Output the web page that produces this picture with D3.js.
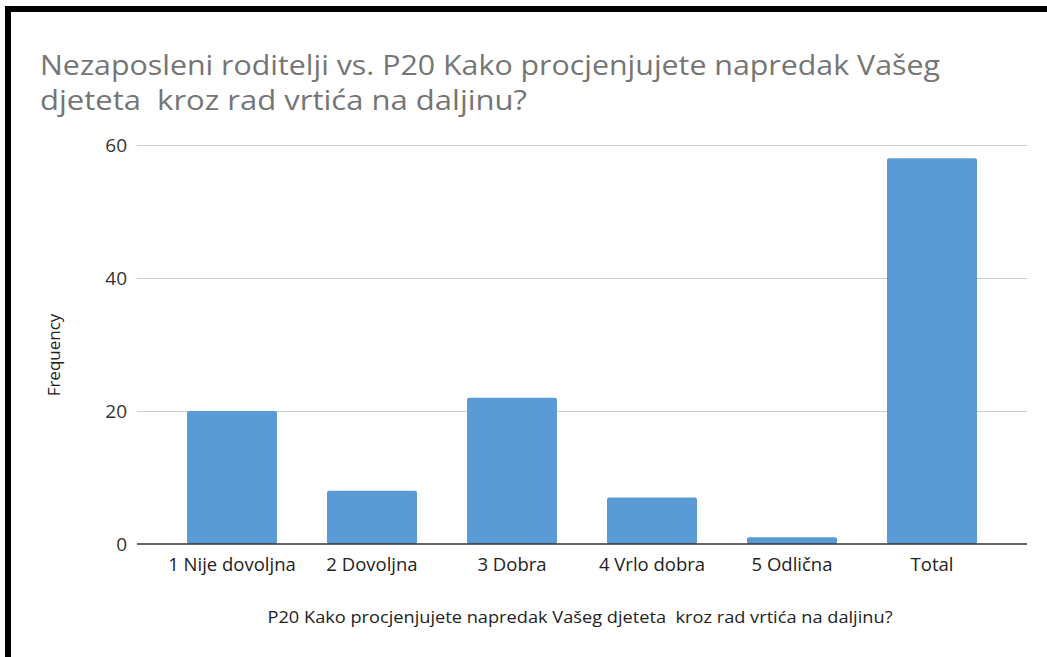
<!DOCTYPE html>
<html>
<head>
<meta charset="utf-8">
<script src="https://cdn.jsdelivr.net/npm/d3@7"></script>
<style>
  body { margin: 0; background: #fff; }
  svg { display: block; }
</style>
</head>
<body>
<div id="chart"></div>
<script>
// chart data
var categories = ["1 Nije dovoljna", "2 Dovoljna", "3 Dobra", "4 Vrlo dobra", "5 Odlična", "Total"];
var frequencies = [20, 8, 22, 7, 1, 58];
var yTicks = [0, 20, 40, 60];

var width = 1047, height = 657;
var font = "'Open Sans', 'Noto Sans', sans-serif";

var svg = d3.select("#chart").append("svg")
  .attr("width", width)
  .attr("height", height);

svg.append("rect")
  .attr("width", width).attr("height", height)
  .style("fill", "white");

// black frame (cropped on right and bottom)
svg.append("rect")
  .attr("x", 5).attr("y", 6)
  .attr("width", width - 5).attr("height", 6)
  .style("fill", "#000");
svg.append("rect")
  .attr("x", 5).attr("y", 6)
  .attr("width", 6).attr("height", height - 6)
  .style("fill", "#000");

// title, two lines
var titleLines = [
  { t: "Nezaposleni roditelji vs. P20 Kako procjenjujete napredak Vašeg", y: 75, w: 900 },
  { t: "djeteta  kroz rad vrtića na daljinu?", y: 110, w: 487 }
];
svg.selectAll(".title").data(titleLines).enter()
  .append("text")
  .attr("class", "title")
  .attr("x", 40)
  .attr("y", function(d) { return d.y; })
  .attr("textLength", function(d) { return d.w; })
  .attr("lengthAdjust", "spacingAndGlyphs")
  .style("font-family", font)
  .style("font-size", "27px")
  .style("fill", "#757575")
  .style("white-space", "pre")
  .text(function(d) { return d.t; });

// scales
var x = d3.scaleBand()
  .domain(categories)
  .range([162, 1002])
  .paddingInner(50 / 140)
  .paddingOuter(25 / 140);

var y = d3.scaleLinear()
  .domain([0, 60])
  .range([544, 145]);

var plotLeft = 137, plotRight = 1027;

// gridlines
svg.append("g")
  .attr("transform", "translate(" + plotLeft + ",0)")
  .call(d3.axisLeft(y).tickValues(yTicks.slice(1)).tickSize(-(plotRight - plotLeft)).tickFormat(""))
  .call(function(g) { g.select(".domain").remove(); })
  .selectAll("line")
  .style("stroke", "#cccccc")
  .style("stroke-width", 1.2);

// y tick labels
svg.append("g")
  .attr("transform", "translate(" + plotLeft + ",0)")
  .call(d3.axisLeft(y).tickValues(yTicks).tickSize(0).tickPadding(10))
  .call(function(g) { g.select(".domain").remove(); })
  .selectAll("text")
  .style("font-family", font)
  .style("font-size", "19px")
  .style("fill", "#333");

// bars
svg.append("g").selectAll("rect")
  .data(frequencies)
  .enter()
  .append("rect")
  .attr("x", function(d, i) { return x(categories[i]); })
  .attr("y", function(d) { return y(d); })
  .attr("width", x.bandwidth())
  .attr("height", function(d) { return y(0) - y(d); })
  .attr("rx", 2)
  .style("fill", "#5b9bd5");

// x axis
var xAxis = svg.append("g")
  .attr("transform", "translate(0," + y(0) + ")")
  .call(d3.axisBottom(x).tickSize(0).tickPadding(14));
xAxis.select(".domain").remove();
xAxis.append("line")
  .attr("x1", plotLeft).attr("x2", plotRight)
  .style("stroke", "#333").style("stroke-width", 1.5);
xAxis.selectAll("text")
  .style("font-family", font)
  .style("font-size", "18.5px")
  .style("fill", "#222");

// axis titles
svg.append("text")
  .attr("x", 580).attr("y", 623)
  .attr("text-anchor", "middle")
  .attr("textLength", 625)
  .attr("lengthAdjust", "spacingAndGlyphs")
  .style("font-family", font)
  .style("font-size", "17px")
  .style("fill", "#222")
  .style("white-space", "pre")
  .text("P20 Kako procjenjujete napredak Vašeg djeteta  kroz rad vrtića na daljinu?");

svg.append("text")
  .attr("transform", "translate(60,355) rotate(-90)")
  .attr("text-anchor", "middle")
  .style("font-family", font)
  .style("font-size", "17px")
  .style("fill", "#222")
  .text("Frequency");
</script>
</body>
</html>
